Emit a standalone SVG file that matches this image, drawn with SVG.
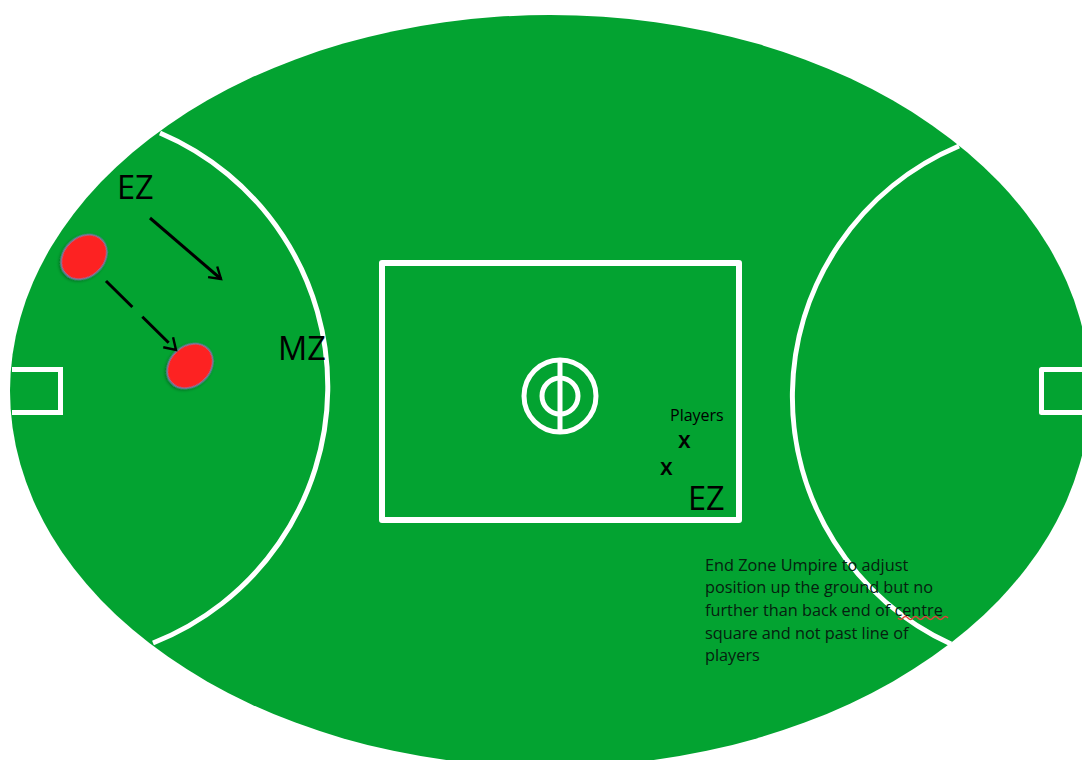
<svg xmlns="http://www.w3.org/2000/svg" width="1082" height="760" viewBox="0 0 1082 760">
<defs>
<marker id="arrow" markerUnits="userSpaceOnUse" markerWidth="18" markerHeight="18" refX="15" refY="9" orient="auto"><path d="M4 2L15 9L4 16" fill="none" stroke="#000" stroke-width="2.400"/></marker>
<filter id="shadow" x="-20%" y="-20%" width="140%" height="140%"><feDropShadow dx="0" dy="1.500" stdDeviation="1.500" flood-color="#000" flood-opacity="0.35"/></filter>
</defs>
<style>
.line{fill:none;stroke:#fff;stroke-width:6}
.thin{fill:none;stroke:#fff;stroke-width:5}
.ball{fill:#fd2020;stroke:#6d7aa0;stroke-width:1.500;filter:url(#shadow)}
.arrow{fill:none;stroke:#000;stroke-width:3;marker-end:url(#arrow)}
text{font-family:"Open Sans","Liberation Sans",sans-serif;fill:#000}
.big{font-size:32.500px}
.note{font-size:16.300px;fill:#06200f}
.x{font-size:23px;font-weight:600}
</style>
<rect width="1082" height="760" fill="#fff"/>
<g id="ground">
<ellipse cx="550" cy="391" rx="540" ry="376" fill="#03a331"/>
</g>
<g id="left-arc"><path class="thin" d="M160 133A275.500 275.500 0 0 1 153 643"/></g>
<g id="right-arc"><path class="thin" d="M959 146A272 272 0 0 0 951 644"/></g>
<g id="left-goal"><path class="thin" d="M12 369.500H60.500V412.500H12"/></g>
<g id="right-goal"><path class="thin" d="M1082 369.500H1041.500V412.500H1082" stroke-linejoin="round"/></g>
<g id="centre-square"><rect class="line" x="382" y="263" width="357" height="257" stroke-linejoin="round"/></g>
<g id="centre-circles">
<circle class="thin" cx="560" cy="396" r="36"/>
<circle class="thin" cx="560" cy="396" r="18"/>
<path class="thin" d="M560 360V432"/>
</g>
<g id="ball-1"><ellipse class="ball" cx="84" cy="257" rx="20" ry="25" transform="rotate(48 84 257)"/></g>
<g id="ball-2"><ellipse class="ball" cx="190" cy="366" rx="20" ry="25" transform="rotate(48 190 366)"/></g>
<g id="connectors">
<path class="arrow" d="M150 218L221 279"/>
<path class="arrow" stroke-dasharray="37 14" d="M106 281L176 350"/>
</g>
<g id="labels">
<text class="big" x="117" y="199">EZ</text>
<text class="big" x="278" y="360">MZ</text>
<text class="big" x="688" y="510">EZ</text>
<text x="670" y="421" font-size="16">Players</text>
<text class="x" x="678" y="448">x</text>
<text class="x" x="660" y="475">x</text>
</g>
<g id="note">
<text class="note" x="705" y="571">End Zone Umpire to adjust</text>
<text class="note" x="705" y="593">position up the ground but no</text>
<text class="note" x="705" y="616">further than back end of centre</text>
<text class="note" x="705" y="639">square and not past line of</text>
<text class="note" x="705" y="661">players</text>
<path d="M898 618q2.500 3 5 0t5 0t5 0t5 0t5 0t5 0t5 0t5 0t5 0t5 0" fill="none" stroke="#e0403a" stroke-width="1.400"/>
</g>
</svg>
